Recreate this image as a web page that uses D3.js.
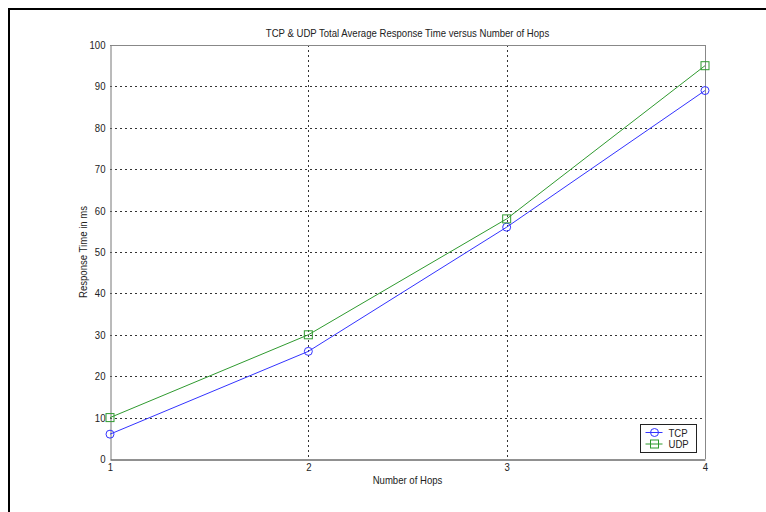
<!DOCTYPE html>
<html>
<head>
<meta charset="utf-8">
<script src="https://cdn.jsdelivr.net/npm/d3@7"></script>
<style>
  html, body { margin: 0; padding: 0; background: #fff; }
  svg { display: block; }
  text { font-family: "Liberation Sans", Arial, sans-serif; fill: #222; }
</style>
</head>
<body>
<svg id="chart" width="766" height="512"></svg>
<script>
// Hop counts and measured average response times (ms)
const hops = [1, 2, 3, 4];
const tcpTimes = [6, 26, 56, 89];
const udpTimes = [10, 30, 58, 95];
const yTicks = [0, 10, 20, 30, 40, 50, 60, 70, 80, 90, 100];
const xTicks = [1, 2, 3, 4];
const seriesNames = ["TCP", "UDP"];
const seriesColors = ["#3333ff", "#2f9a2f"];

const svg = d3.select("#chart");
const W = 766, H = 512;
const plot = { left: 110, top: 45, right: 705, bottom: 459 };
const fs = "11px";

// Figure frame (left and top edges are visible)
svg.append("path")
  .attr("d", `M9,${H + 5} L9,9 L${W + 5},9`)
  .attr("fill", "none").attr("stroke", "#000").attr("stroke-width", 2);

const x = d3.scaleLinear().domain([1, 4]).range([plot.left, plot.right]);
const y = d3.scaleLinear().domain([0, 100]).range([plot.bottom, plot.top]);

// Dotted grid
const grid = svg.append("g");
grid.selectAll("line.h").data(yTicks.filter(v => v > 0 && v < 100)).join("line")
  .attr("x1", plot.left).attr("x2", plot.right)
  .attr("y1", d => Math.round(y(d)) + 0.5).attr("y2", d => Math.round(y(d)) + 0.5)
  .attr("stroke", "#333").attr("stroke-width", 1).attr("stroke-dasharray", "2,3");
grid.selectAll("line.v").data(xTicks.filter(v => v > 1)).join("line")
  .attr("x1", d => Math.round(x(d)) + 0.5).attr("x2", d => Math.round(x(d)) + 0.5)
  .attr("y1", plot.top).attr("y2", plot.bottom)
  .attr("stroke", "#333").attr("stroke-width", 1).attr("stroke-dasharray", "2,3");

// Axes box
svg.append("line").attr("x1", plot.left).attr("x2", plot.right)
  .attr("y1", plot.top + 0.5).attr("y2", plot.top + 0.5)
  .attr("stroke", "#888");
svg.append("line").attr("x1", plot.right + 0.5).attr("x2", plot.right + 0.5)
  .attr("y1", plot.top).attr("y2", plot.bottom)
  .attr("stroke", "#888").attr("stroke-width", 1);

const yAxis = d3.axisLeft(y).tickValues(yTicks).tickSize(0).tickPadding(5);
const gy = svg.append("g").attr("transform", `translate(${plot.left + 0.5},0)`).call(yAxis);
gy.select(".domain").attr("stroke", "#777");
gy.selectAll("text").style("font-size", fs).attr("fill", "#222");

const xAxis = d3.axisBottom(x).tickValues(xTicks).tickFormat(d3.format("d")).tickSize(0).tickPadding(4);
const gx = svg.append("g").attr("transform", `translate(0,${plot.bottom + 0.5})`).call(xAxis);
gx.select(".domain").attr("stroke", "#222");
gx.selectAll("text").style("font-size", fs).attr("fill", "#222");

// Series
const series = [tcpTimes, udpTimes];
const line = d3.line().x((d, i) => x(hops[i])).y(d => y(d));
series.forEach((vals, s) => {
  svg.append("path").datum(vals).attr("d", line)
    .attr("fill", "none").attr("stroke", seriesColors[s]).attr("stroke-width", 1);
});

function marker(g, kind, cx, cy, color) {
  if (kind === 0) {
    g.append("circle").attr("cx", cx).attr("cy", cy).attr("r", 4)
      .attr("fill", "none").attr("stroke", color).attr("stroke-width", 1);
  } else {
    g.append("rect").attr("x", cx - 4).attr("y", cy - 4).attr("width", 8).attr("height", 8)
      .attr("fill", "none").attr("stroke", color).attr("stroke-width", 1);
  }
}
const mg = svg.append("g");
series.forEach((vals, s) => {
  vals.forEach((v, i) => marker(mg, s, x(hops[i]), y(v), seriesColors[s]));
});

// Title and axis labels
svg.append("text").attr("x", (plot.left + plot.right) / 2).attr("y", 37)
  .attr("text-anchor", "middle").style("font-size", fs)
  .text("TCP & UDP Total Average Response Time versus Number of Hops");
svg.append("text").attr("x", (plot.left + plot.right) / 2).attr("y", 484)
  .attr("text-anchor", "middle").style("font-size", fs)
  .text("Number of Hops");
svg.append("text")
  .attr("transform", `translate(87,${(plot.top + plot.bottom) / 2}) rotate(-90)`)
  .attr("text-anchor", "middle").style("font-size", fs)
  .text("Response Time in ms");

// Legend
const lg = svg.append("g").attr("transform", "translate(640.5,424.5)");
lg.append("rect").attr("width", 56).attr("height", 28)
  .attr("fill", "#fff").attr("stroke", "#222").attr("stroke-width", 1);
seriesNames.forEach((name, s) => {
  const ly = 8 + s * 11.5;
  lg.append("line").attr("x1", 5).attr("x2", 22).attr("y1", ly).attr("y2", ly)
    .attr("stroke", seriesColors[s]);
  marker(lg, s, 14, ly, seriesColors[s]);
  lg.append("text").attr("x", 28).attr("y", ly + 4).style("font-size", fs).text(name);
});

// Condense all labels slightly for a narrow typeface look
svg.selectAll("text").each(function () {
  const len = this.getComputedTextLength();
  d3.select(this).attr("textLength", len * 0.87).attr("lengthAdjust", "spacingAndGlyphs");
});
</script>
</body>
</html>
